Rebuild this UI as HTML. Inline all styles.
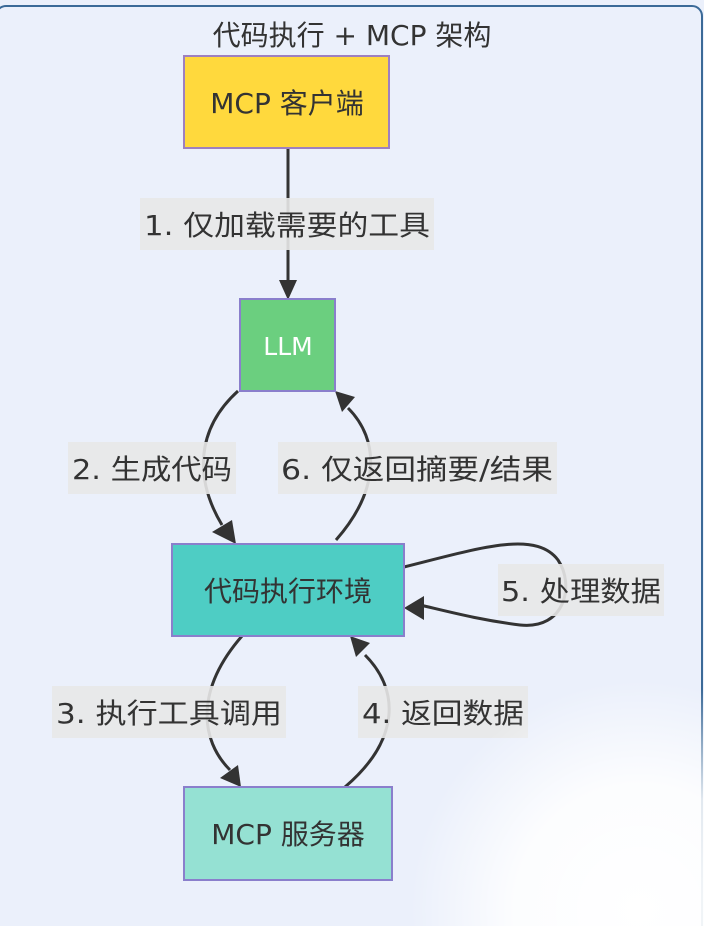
<!DOCTYPE html>
<html><head><meta charset="utf-8"><style>
html,body{margin:0;padding:0;background:#fff;}
svg{display:block;}
text{font-family:"DejaVu Sans","Noto Sans CJK SC",sans-serif;fill:#333;}
</style></head><body>
<svg width="704" height="926" viewBox="0 0 704 926" xmlns="http://www.w3.org/2000/svg">
<defs>
<radialGradient id="fade" cx="640" cy="910" r="230" gradientUnits="userSpaceOnUse">
<stop offset="0" stop-color="#fff" stop-opacity="1"/>
<stop offset="0.55" stop-color="#fff" stop-opacity="0.85"/>
<stop offset="1" stop-color="#fff" stop-opacity="0"/>
</radialGradient>
</defs>
<rect x="0" y="0" width="704" height="926" fill="#EBF0FB"/>
<rect x="-4" y="6" width="706" height="940" rx="10" fill="#EBF0FB" stroke="#3B6A98" stroke-width="2"/>
<text x="352" y="45" font-size="28" text-anchor="middle">代码执行 + MCP 架构</text>

<g stroke="#333" stroke-width="3" fill="none">
<path d="M288 148 L288 282"/>
<path d="M238 391 C195 430 195 480 222 525"/>
<path d="M336 540 C380 490 380 440 348 408"/>
<path d="M404 567 C480 548 535 530 558 560 C575 585 565 630 520 625 C480 620 450 612 420 605"/>
<path d="M242 636 C195 690 200 740 230 770"/>
<path d="M345 787 C400 740 400 690 365 655"/>
</g>
<g fill="#333">
<polygon points="279,280 297,280 288,300"/>
<polygon points="212,532 232,520 236,544"/>
<polygon points="335,391 355,397 342,412"/>
<polygon points="404,608 424,596 424,620"/>
<polygon points="220,778 238,765 241,787"/>
<polygon points="350,636 370,643 356,657"/>
</g>

<rect x="184" y="56" width="205" height="92" fill="#FFD93D" stroke="#9E80C0" stroke-width="2"/>
<text x="287" y="113" font-size="28" text-anchor="middle">MCP 客户端</text>
<rect x="240" y="299" width="95" height="92" fill="#6BCF7F" stroke="#8A7FCC" stroke-width="2"/>
<text x="288" y="355" font-size="25" text-anchor="middle" style="fill:#fff">LLM</text>
<rect x="172" y="544" width="232" height="92" fill="#4ECDC4" stroke="#8A7FCC" stroke-width="2"/>
<text x="288" y="601" font-size="28" text-anchor="middle">代码执行环境</text>
<rect x="184" y="787" width="208" height="93" fill="#95E1D3" stroke="#8A7FCC" stroke-width="2"/>
<text x="288" y="844" font-size="28" text-anchor="middle">MCP 服务器</text>

<g fill="#E8E8E8" fill-opacity="0.9">
<rect x="140" y="198" width="294" height="52"/>
<rect x="68" y="442" width="168" height="52"/>
<rect x="278" y="442" width="279" height="52"/>
<rect x="498" y="564" width="166" height="52"/>
<rect x="52" y="686" width="234" height="52"/>
<rect x="358" y="686" width="170" height="52"/>
</g>
<g font-size="28" text-anchor="middle">
<text x="287" y="235" textLength="286" lengthAdjust="spacingAndGlyphs">1. 仅加载需要的工具</text>
<text x="152" y="479" textLength="160" lengthAdjust="spacingAndGlyphs">2. 生成代码</text>
<text x="417" y="479" textLength="272" lengthAdjust="spacingAndGlyphs">6. 仅返回摘要/结果</text>
<text x="581" y="601" textLength="160" lengthAdjust="spacingAndGlyphs">5. 处理数据</text>
<text x="169" y="723" textLength="226" lengthAdjust="spacingAndGlyphs">3. 执行工具调用</text>
<text x="443" y="723" textLength="162" lengthAdjust="spacingAndGlyphs">4. 返回数据</text>
</g>
<rect x="0" y="0" width="704" height="926" fill="url(#fade)"/>
</svg>
</body></html>
